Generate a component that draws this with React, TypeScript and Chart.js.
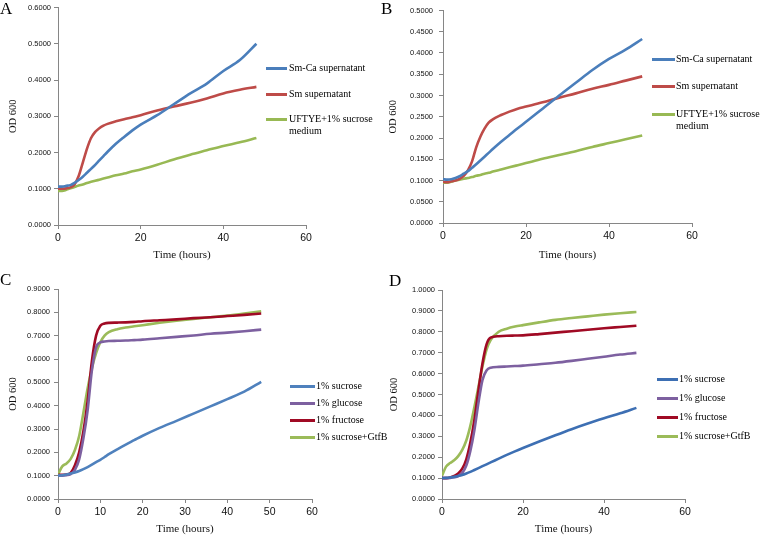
import React, { useEffect, useRef } from "react";
import { Chart, registerables } from "chart.js";
Chart.register(...registerables);

// Sampling times (hours)
const HOURS = [0, 1, 2, 3, 4, 5, 6, 7, 8, 9, 10, 11, 12, 14, 16, 18, 20, 24, 28, 32, 36, 40, 44, 48];

// Panel A
const A_SMCA = [0.106, 0.106, 0.108, 0.11, 0.116, 0.124, 0.133, 0.144, 0.155, 0.166, 0.178, 0.19, 0.202, 0.224, 0.243, 0.261, 0.277, 0.303, 0.333, 0.363, 0.39, 0.425, 0.455, 0.5];
const A_SM = [0.1, 0.1, 0.101, 0.104, 0.112, 0.135, 0.172, 0.21, 0.24, 0.257, 0.267, 0.274, 0.279, 0.286, 0.292, 0.297, 0.303, 0.316, 0.327, 0.337, 0.349, 0.363, 0.373, 0.381];
const A_UFTYE = [0.094, 0.094, 0.097, 0.101, 0.105, 0.109, 0.112, 0.116, 0.119, 0.122, 0.125, 0.128, 0.131, 0.137, 0.142, 0.148, 0.153, 0.166, 0.181, 0.194, 0.206, 0.218, 0.228, 0.24];

// Panel B
const B_SMCA = [0.103, 0.102, 0.103, 0.106, 0.11, 0.116, 0.122, 0.13, 0.138, 0.147, 0.156, 0.165, 0.174, 0.191, 0.207, 0.223, 0.238, 0.269, 0.3, 0.33, 0.36, 0.386, 0.408, 0.433];
const B_SM = [0.097, 0.096, 0.098, 0.1, 0.104, 0.111, 0.124, 0.145, 0.178, 0.203, 0.222, 0.236, 0.244, 0.254, 0.262, 0.269, 0.274, 0.284, 0.295, 0.305, 0.316, 0.325, 0.335, 0.345];
const B_UFTYE = [0.095, 0.095, 0.097, 0.1, 0.102, 0.104, 0.106, 0.108, 0.111, 0.113, 0.116, 0.118, 0.121, 0.126, 0.131, 0.136, 0.141, 0.151, 0.16, 0.169, 0.179, 0.188, 0.197, 0.206];

// Panel C
const C_SUCROSE = [0.1, 0.102, 0.105, 0.109, 0.114, 0.12, 0.128, 0.137, 0.147, 0.158, 0.168, 0.18, 0.192, 0.213, 0.233, 0.252, 0.271, 0.305, 0.335, 0.366, 0.397, 0.428, 0.46, 0.502];
const C_GLUCOSE = [0.1, 0.1, 0.102, 0.107, 0.125, 0.17, 0.26, 0.38, 0.55, 0.65, 0.671, 0.675, 0.677, 0.678, 0.679, 0.681, 0.683, 0.689, 0.695, 0.701, 0.708, 0.713, 0.719, 0.726];
const C_FRUCTOSE = [0.103, 0.104, 0.105, 0.112, 0.145, 0.2, 0.29, 0.42, 0.59, 0.7, 0.742, 0.752, 0.755, 0.756, 0.757, 0.759, 0.762, 0.766, 0.77, 0.775, 0.779, 0.784, 0.789, 0.795];
const C_GTFB = [0.105, 0.14, 0.152, 0.172, 0.21, 0.27, 0.37, 0.475, 0.56, 0.625, 0.672, 0.7, 0.715, 0.728, 0.735, 0.74, 0.745, 0.755, 0.764, 0.772, 0.779, 0.786, 0.795, 0.805];

// Panel D
const D_SUCROSE = [0.1, 0.101, 0.103, 0.106, 0.11, 0.115, 0.122, 0.13, 0.139, 0.148, 0.157, 0.166, 0.175, 0.193, 0.211, 0.228, 0.244, 0.275, 0.305, 0.334, 0.361, 0.386, 0.41, 0.436];
const D_GLUCOSE = [0.1, 0.1, 0.101, 0.104, 0.11, 0.125, 0.16, 0.23, 0.33, 0.46, 0.57, 0.615, 0.628, 0.632, 0.634, 0.636, 0.638, 0.645, 0.652, 0.661, 0.671, 0.681, 0.691, 0.699];
const D_FRUCTOSE = [0.1, 0.1, 0.103, 0.11, 0.122, 0.145, 0.19, 0.27, 0.38, 0.52, 0.65, 0.74, 0.772, 0.779, 0.781, 0.782, 0.783, 0.789, 0.796, 0.803, 0.81, 0.817, 0.823, 0.829];
const D_GTFB = [0.112, 0.155, 0.172, 0.185, 0.205, 0.235, 0.28, 0.35, 0.44, 0.537, 0.635, 0.715, 0.76, 0.8, 0.815, 0.825, 0.832, 0.845, 0.857, 0.866, 0.874, 0.882, 0.889, 0.895];

const LABELS_AB = ["Sm-Ca supernatant", "Sm supernatant", "UFTYE+1% sucrose\nmedium"];
const LABELS_CD = ["1% sucrose", "1% glucose", "1% fructose", "1% sucrose+GtfB"];

const SERIF = '"Liberation Serif", "Times New Roman", serif';
const SANS = '"Liberation Sans", Arial, sans-serif';
const AXIS = "#868686";

type Series = { label: string; color: string; values: number[] };
type PanelCfg = {
  letter: string;
  letterPos: [number, number];
  left: number;
  top: number;
  width: number;
  height: number;
  area: { left: number; right: number; top: number; bottom: number };
  padBottom: number;
  yMax: number;
  yStep: number;
  xStep: number;
  yTickPad: number;
  yTitlePad: number;
  series: Series[];
  legend: { x1: number; x2: number; tx: number; rows: number[] };
};

const PANELS: PanelCfg[] = [
  {
    letter: "A", letterPos: [0, -1], left: 0, top: 0, width: 380, height: 264,
    area: { left: 58, right: 306, top: 7, bottom: 225 }, padBottom: 2,
    yMax: 0.6, yStep: 0.1, xStep: 20, yTickPad: 3, yTitlePad: 7,
    series: [
      { label: LABELS_AB[0], color: "#4a7ebb", values: A_SMCA },
      { label: LABELS_AB[1], color: "#be4b48", values: A_SM },
      { label: LABELS_AB[2], color: "#98b954", values: A_UFTYE },
    ],
    legend: { x1: 266, x2: 287, tx: 289, rows: [68, 94, 119] },
  },
  {
    letter: "B", letterPos: [381, -1], left: 380, top: 0, width: 380, height: 264,
    area: { left: 63, right: 312, top: 9, bottom: 223 }, padBottom: 2,
    yMax: 0.5, yStep: 0.05, xStep: 20, yTickPad: 6, yTitlePad: 7,
    series: [
      { label: LABELS_AB[0], color: "#4a7ebb", values: B_SMCA },
      { label: LABELS_AB[1], color: "#be4b48", values: B_SM },
      { label: LABELS_AB[2], color: "#98b954", values: B_UFTYE },
    ],
    legend: { x1: 652, x2: 675, tx: 676, rows: [59, 86, 114] },
  },
  {
    letter: "C", letterPos: [0, 270], left: 0, top: 264, width: 380, height: 272,
    area: { left: 58, right: 312, top: 25, bottom: 235 }, padBottom: 0,
    yMax: 0.9, yStep: 0.1, xStep: 10, yTickPad: 4, yTitlePad: 7,
    series: [
      { label: LABELS_CD[0], color: "#4f81bd", values: C_SUCROSE },
      { label: LABELS_CD[1], color: "#7d60a0", values: C_GLUCOSE },
      { label: LABELS_CD[2], color: "#a00a24", values: C_FRUCTOSE },
      { label: LABELS_CD[3], color: "#9bbb59", values: C_GTFB },
    ],
    legend: { x1: 290, x2: 315, tx: 316, rows: [386, 403, 420, 437] },
  },
  {
    letter: "D", letterPos: [389, 271], left: 380, top: 264, width: 380, height: 272,
    area: { left: 62, right: 305, top: 26, bottom: 235 }, padBottom: 0,
    yMax: 1.0, yStep: 0.1, xStep: 20, yTickPad: 3, yTitlePad: 8,
    series: [
      { label: LABELS_CD[0], color: "#3d6fb3", values: D_SUCROSE },
      { label: LABELS_CD[1], color: "#7d60a0", values: D_GLUCOSE },
      { label: LABELS_CD[2], color: "#a00a24", values: D_FRUCTOSE },
      { label: LABELS_CD[3], color: "#9bbb59", values: D_GTFB },
    ],
    legend: { x1: 657, x2: 678, tx: 679, rows: [379, 398, 417, 436] },
  },
];

function Panel({ cfg }: { cfg: PanelCfg }) {
  const ref = useRef<HTMLCanvasElement>(null);
  useEffect(() => {
    if (!ref.current) return;
    const { area, width, height, padBottom } = cfg;
    const xHeight = height - area.bottom - padBottom;
    const chart = new Chart(ref.current, {
      type: "line",
      data: {
        datasets: cfg.series.map((s) => ({
          label: s.label,
          data: HOURS.map((h, i) => ({ x: h, y: s.values[i] })),
          borderColor: s.color,
          backgroundColor: s.color,
          borderWidth: 2.6,
          pointRadius: 0,
          cubicInterpolationMode: "monotone" as const,
          fill: false,
        })),
      },
      options: {
        animation: false,
        responsive: false,
        events: [],
        layout: { padding: { left: 0, top: area.top, right: width - area.right, bottom: padBottom } },
        plugins: { legend: { display: false }, tooltip: { enabled: false } },
        scales: {
          x: {
            type: "linear",
            min: 0,
            max: 60,
            ticks: { stepSize: cfg.xStep, color: "#111", font: { family: SANS, size: 10.5 }, padding: 3, maxRotation: 0 },
            grid: { display: true, drawOnChartArea: false, drawTicks: true, tickLength: 4, color: AXIS },
            border: { display: true, color: AXIS, width: 1 },
            title: { display: true, text: "Time (hours)", color: "#111", font: { family: SERIF, size: 11 }, padding: { top: 0, bottom: 0 } },
            afterFit: (s: any) => { s.height = xHeight; },
          },
          y: {
            type: "linear",
            min: 0,
            max: cfg.yMax,
            ticks: {
              stepSize: cfg.yStep,
              color: "#111",
              font: { family: SANS, size: 7.5 },
              padding: cfg.yTickPad,
              callback: (v: any) => Number(v).toFixed(4),
            },
            grid: { display: true, drawOnChartArea: false, drawTicks: true, tickLength: 4, color: AXIS },
            border: { display: true, color: AXIS, width: 1 },
            title: { display: true, text: "OD 600", color: "#111", font: { family: SERIF, size: 10.5 }, padding: { top: cfg.yTitlePad, bottom: 0 } },
            afterFit: (s: any) => { s.width = area.left; },
          },
        },
      },
    });
    return () => chart.destroy();
  }, [cfg]);

  const lg = cfg.legend;
  return (
    <>
      <canvas
        ref={ref}
        width={cfg.width}
        height={cfg.height}
        style={{ position: "absolute", left: cfg.left, top: cfg.top, width: cfg.width, height: cfg.height }}
      />
      <div
        style={{
          position: "absolute",
          left: cfg.letterPos[0],
          top: cfg.letterPos[1],
          fontFamily: SERIF,
          fontSize: 17,
          lineHeight: "20px",
          color: "#000",
        }}
      >
        {cfg.letter}
      </div>
      {cfg.series.map((s, i) => (
        <React.Fragment key={i}>
          <div
            style={{
              position: "absolute",
              left: lg.x1,
              top: lg.rows[i] - 1,
              width: lg.x2 - lg.x1,
              height: 3,
              background: s.color,
            }}
          />
          <div
            style={{
              position: "absolute",
              left: lg.tx,
              top: lg.rows[i] - 5.7,
              fontFamily: SERIF,
              fontSize: 10,
              lineHeight: "11.4px",
              color: "#000",
              whiteSpace: "pre",
            }}
          >
            {s.label}
          </div>
        </React.Fragment>
      ))}
    </>
  );
}

export default function App() {
  return (
    <div style={{ position: "absolute", left: 0, top: 0, width: 760, height: 536, background: "#fff", overflow: "hidden" }}>
      {PANELS.map((p) => (
        <Panel key={p.letter} cfg={p} />
      ))}
    </div>
  );
}
